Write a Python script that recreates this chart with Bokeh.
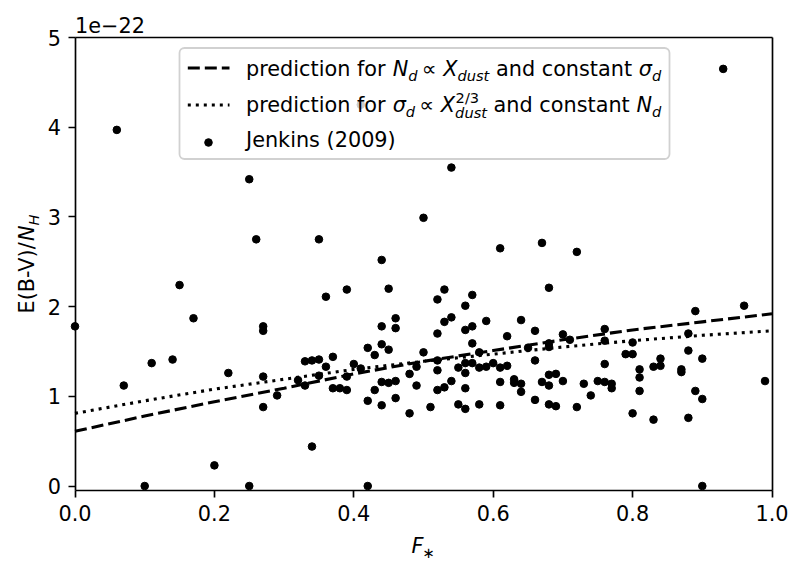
import math
from bokeh.plotting import figure
from bokeh.models import Range1d, FixedTicker, Label, LinearAxis
from bokeh.embed import file_html
from bokeh.resources import INLINE

# ---------------- data (values in units of 1e-22) ----------------
f_star = [0.00, 0.06, 0.07, 0.10, 0.11, 0.14, 0.15, 0.17, 0.20, 0.22,
          0.25, 0.25, 0.26, 0.27, 0.27, 0.27, 0.27, 0.29, 0.32, 0.33,
          0.33, 0.34, 0.34, 0.35, 0.35, 0.35, 0.36, 0.36, 0.37, 0.37,
          0.38, 0.39, 0.39, 0.39, 0.40, 0.41, 0.41, 0.42, 0.42, 0.42,
          0.43, 0.43, 0.44, 0.44, 0.44, 0.44, 0.44, 0.45, 0.45, 0.45,
          0.46, 0.46, 0.46, 0.46, 0.48, 0.48, 0.49, 0.49, 0.50, 0.50,
          0.51, 0.52, 0.52, 0.52, 0.52, 0.52, 0.53, 0.53, 0.53, 0.54,
          0.54, 0.54, 0.55, 0.55, 0.56, 0.56, 0.56, 0.56, 0.56, 0.56,
          0.57, 0.57, 0.57, 0.57, 0.58, 0.58, 0.58, 0.59, 0.59, 0.60,
          0.61, 0.61, 0.61, 0.61, 0.62, 0.62, 0.63, 0.63, 0.64, 0.64,
          0.64, 0.65, 0.66, 0.66, 0.66, 0.67, 0.67, 0.68, 0.68, 0.68,
          0.68, 0.68, 0.68, 0.69, 0.69, 0.70, 0.70, 0.71, 0.72, 0.72,
          0.73, 0.74, 0.75, 0.76, 0.76, 0.76, 0.76, 0.77, 0.77, 0.79,
          0.80, 0.80, 0.80, 0.81, 0.81, 0.81, 0.83, 0.83, 0.84, 0.84,
          0.87, 0.87, 0.88, 0.88, 0.88, 0.89, 0.89, 0.90, 0.90, 0.90,
          0.93, 0.96, 0.99]
ebv_nh = [1.78, 3.97, 1.12, 0.00, 1.37, 1.41, 2.24, 1.87, 0.23, 1.26,
          3.42, 0.00, 2.75, 1.78, 1.73, 1.22, 0.88, 1.01, 1.18, 1.39,
          1.12, 1.40, 0.44, 1.41, 1.23, 2.75, 1.33, 2.11, 1.44, 1.09,
          1.09, 1.07, 1.22, 2.19, 1.36, 1.31, 4.25, 1.54, 0.95, 0.00,
          1.46, 1.07, 2.52, 1.78, 1.58, 1.16, 0.90, 2.20, 1.52, 1.15,
          1.87, 1.76, 1.17, 0.98, 1.25, 0.81, 1.33, 1.12, 2.99, 1.49,
          0.88, 2.08, 1.70, 1.40, 1.29, 1.07, 2.19, 1.83, 1.10, 3.55,
          1.88, 1.17, 1.32, 0.91, 2.01, 1.74, 1.37, 1.26, 1.09, 0.86,
          2.13, 1.78, 1.59, 1.37, 1.49, 1.32, 0.91, 1.84, 1.33, 1.37,
          2.65, 1.32, 1.16, 0.90, 1.67, 1.34, 1.19, 1.15, 1.85, 1.14,
          1.05, 1.54, 1.73, 1.40, 0.96, 2.71, 1.16, 2.21, 1.59, 1.55,
          1.24, 1.12, 0.91, 1.25, 0.89, 1.69, 1.17, 1.63, 2.61, 0.88,
          1.14, 1.01, 1.17, 1.75, 1.62, 1.36, 1.16, 1.14, 1.09, 1.47,
          1.60, 1.47, 0.81, 1.30, 1.21, 1.06, 1.33, 0.74, 1.42, 1.34,
          1.30, 1.27, 1.70, 1.51, 0.76, 1.95, 1.06, 1.42, 0.97, 0.00,
          4.65, 2.01, 1.17]

pred_f = [0.0, 0.1, 0.2, 0.3, 0.4, 0.5, 0.6, 0.7, 0.8, 0.9, 1.0]
pred_nd = [0.61, 0.78, 0.94, 1.09, 1.25, 1.39, 1.51, 1.63, 1.74, 1.83, 1.92]
pred_sigma = [0.81, 0.95, 1.08, 1.19, 1.30, 1.39, 1.47, 1.55, 1.62, 1.68, 1.73]

x_ticks = [0.0, 0.2, 0.4, 0.6, 0.8, 1.0]
x_tick_labels = ["0.0", "0.2", "0.4", "0.6", "0.8", "1.0"]
y_ticks = [0, 1, 2, 3, 4, 5]
y_tick_labels = ["0", "1", "2", "3", "4", "5"]
x_limits = (0.0, 1.0)
y_limits = (-0.05, 5.0)
offset_text = "1e\u221222"
legend_jenkins = "Jenkins (2009)"

# ---------------- layout (canvas pixels) ----------------
CW, CH = 795, 560            # canvas size
AL, AT, AW, AH = 74.5, 37.0, 697.0, 453.0   # axes box in canvas pixels
FONT = "DejaVu Sans"
FS = 20.8                    # main font size, px
SS = 14.6                    # sub/superscript size, px
KB = 0.346                   # baseline correction (fraction of font size)


def dx(px):
    return x_limits[0] + (px - AL) / AW * (x_limits[1] - x_limits[0])


def dy(py):
    return y_limits[0] + (AT + AH - py) / AH * (y_limits[1] - y_limits[0])


W = {' ': 0.318, 'a': 0.613, 'c': 0.550, 'd': 0.635, 'e': 0.615, 'f': 0.352,
     'i': 0.278, 'k': 0.579, 'n': 0.634, 'o': 0.612, 'p': 0.635, 'r': 0.411,
     's': 0.521, 't': 0.392, 'u': 0.634, 'J': 0.295, 'N': 0.748, 'X': 0.685,
     'H': 0.752, 'E': 0.632, 'B': 0.686, 'V': 0.684, 'F': 0.575, '(': 0.390,
     ')': 0.390, '-': 0.361, '/': 0.337, '0': 0.636, '1': 0.636, '2': 0.636,
     '3': 0.636, '9': 0.636, '\u03c3': 0.634, '\u221d': 0.838,
     '\u2217': 0.838, '\u2212': 0.838}


def tw(s, size):
    return sum(W.get(c, 0.6) for c in s) * size


# the frame covers the whole canvas; the axes are placed at fixed locations
p = figure(width=CW, height=CH,
           x_range=Range1d(dx(0), dx(CW)), y_range=Range1d(dy(CH), dy(0)),
           x_axis_location=None, y_axis_location=None,
           output_backend="svg", toolbar_location=None,
           min_border=0, min_border_left=0, min_border_right=0,
           min_border_top=0, min_border_bottom=0,
           background_fill_color="white", border_fill_color="white")
p.grid.visible = False
p.outline_line_color = None


def style_axis(ax):
    ax.axis_line_width = 1.67
    ax.axis_line_color = "black"
    ax.major_tick_line_width = 1.67
    ax.major_tick_line_color = "black"
    ax.major_tick_out = 7
    ax.major_tick_in = 0
    ax.minor_tick_out = 0
    ax.minor_tick_in = 0
    ax.major_label_standoff = 7
    ax.major_label_text_font = FONT
    ax.major_label_text_font_size = f"{FS}px"
    ax.major_label_text_color = "black"


xaxis = LinearAxis(fixed_location=y_limits[0], bounds=x_limits,
                   ticker=FixedTicker(ticks=x_ticks),
                   major_label_overrides={t: l for t, l in zip(x_ticks, x_tick_labels)})
yaxis = LinearAxis(fixed_location=x_limits[0], bounds=y_limits,
                   ticker=FixedTicker(ticks=y_ticks),
                   major_label_overrides={t: l for t, l in zip(y_ticks, y_tick_labels)})
topaxis = LinearAxis(fixed_location=y_limits[1], bounds=x_limits,
                     ticker=FixedTicker(ticks=[]))
rightaxis = LinearAxis(fixed_location=x_limits[1], bounds=y_limits,
                       ticker=FixedTicker(ticks=[]))
for ax in (xaxis, yaxis, topaxis, rightaxis):
    style_axis(ax)
p.add_layout(xaxis, "below")
p.add_layout(yaxis, "left")
p.add_layout(topaxis, "above")
p.add_layout(rightaxis, "right")

# ---------------- data glyphs ----------------
p.line(pred_f, pred_nd, line_color="black", line_width=3.1, line_dash="12 5")
p.line(pred_f, pred_sigma, line_color="black", line_width=3.1, line_dash="3 5")
p.scatter(f_star, ebv_nh, size=7.6, color="black")

# ---------------- legend ----------------
p.quad(left=[dx(179)], right=[dx(669)], top=[dy(47.5)], bottom=[dy(158.5)],
       fill_color="white", fill_alpha=0.8, line_color="#cccccc",
       line_alpha=0.9, line_width=1.8, border_radius=5)
p.line([dx(187.3), dx(229)], [dy(67.5), dy(67.5)], line_color="black",
       line_width=3.1, line_dash="12 5")
p.line([dx(187.3), dx(229)], [dy(104.5), dy(104.5)], line_color="black",
       line_width=3.1, line_dash="3 5")
p.scatter([dx(208)], [dy(142)], size=7.6, color="black")


def put(xp, yp, s, size, italic=False, angle=0.0):
    # (xp, yp): left end of the text's baseline, canvas pixels
    if angle == 0.0:
        yp = yp - KB * size
    else:
        xp = xp - KB * size
    p.add_layout(Label(x=dx(xp), y=dy(yp), text=s, text_font=FONT,
                       text_font_size=f"{size}px",
                       text_font_style="italic" if italic else "normal",
                       text_align="left", text_baseline="alphabetic",
                       text_color="black", angle=angle))


SP = W[' '] * FS
GAP = 0.2 * FS


def compose(x0, base, pieces):
    """pieces: (text, italic, size, shift_down) | ('gap', w) | ('stack', sup, sub)"""
    x = x0
    for pc in pieces:
        if pc[0] == "stack":
            _, sup, sub = pc
            put(x + 0.5, base - 9.5, sup, SS, False)
            put(x, base + 5.5, sub, SS, True)
            x += max(tw(sup, SS), tw(sub, SS))
        elif pc[0] == "gap":
            x += pc[1]
        else:
            txt, ital, size, sh = pc
            put(x, base + sh, txt, size, ital)
            x += tw(txt, size)
    return x


compose(245.5, 75.5, [("prediction for", False, FS, 0), ("gap", SP),
                      ("N", True, FS, 0), ("d", True, SS, 4.5), ("gap", GAP),
                      ("\u221d", False, FS, 0), ("gap", GAP), ("X", True, FS, 0),
                      ("dust", True, SS, 4.5), ("gap", SP),
                      ("and constant", False, FS, 0), ("gap", SP),
                      ("\u03c3", True, FS, 0), ("d", True, SS, 4.5)])
compose(245.5, 111.5, [("prediction for", False, FS, 0), ("gap", SP),
                       ("\u03c3", True, FS, 0), ("d", True, SS, 4.5), ("gap", GAP),
                       ("\u221d", False, FS, 0), ("gap", GAP), ("X", True, FS, 0),
                       ("stack", "2/3", "dust"), ("gap", SP),
                       ("and constant", False, FS, 0), ("gap", SP),
                       ("N", True, FS, 0), ("d", True, SS, 4.5)])
compose(245.5, 146.5, [(legend_jenkins, False, FS, 0)])

# ---------------- offset text and axis labels ----------------
put(74.5, 31.5, offset_text, FS)

# x label  F_*
xl_w = tw("F", FS) + tw("\u2217", SS)
xs = 423 - xl_w / 2
put(xs, 553, "F", FS, True)
put(xs + tw("F", FS) - 1.0, 557, "\u2217", SS, False)

# y label  E(B-V)/N_H  (rotated, reading upward)
yl_parts = [("E(B-V)/", False, FS, 0), ("N", True, FS, 0), ("H", True, SS, 4.5)]
total = sum(tw(t, s) for t, _, s, _ in yl_parts)
bx = 33.5
by = 263.5 + total / 2
for t, ital, s, sh in yl_parts:
    put(bx + sh, by, t, s, ital, angle=math.pi / 2)
    by -= tw(t, s)

open("out.html", "w").write(file_html(p, INLINE))
